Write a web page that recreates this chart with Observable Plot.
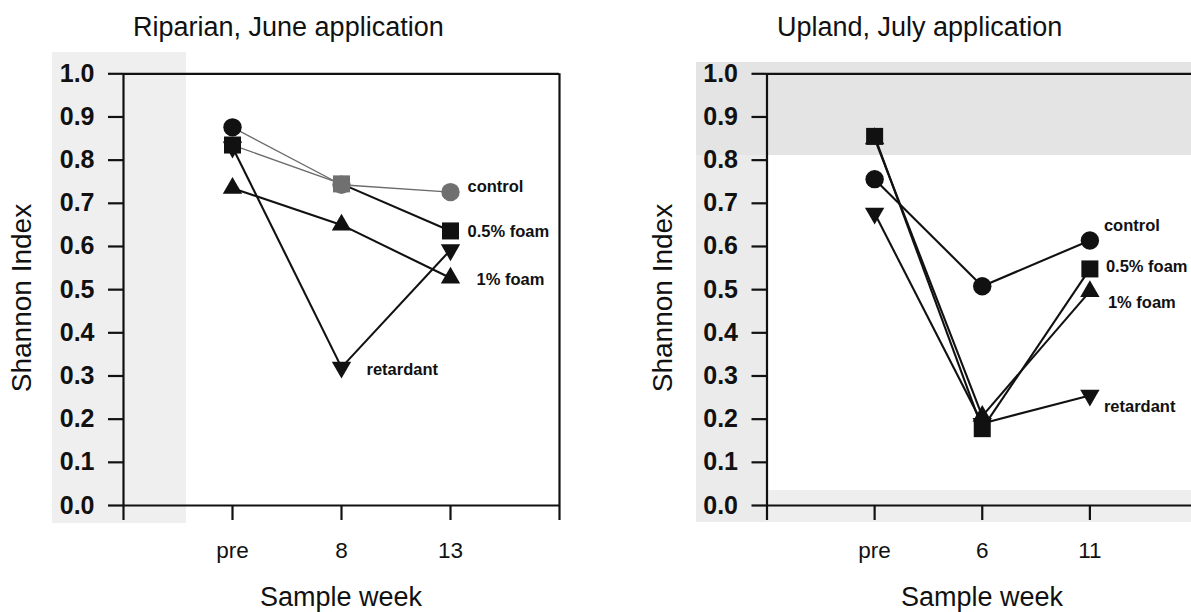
<!DOCTYPE html>
<html>
<head>
<meta charset="utf-8">
<script src="https://cdn.jsdelivr.net/npm/d3@7"></script>
<script src="https://cdn.jsdelivr.net/npm/@observablehq/plot@0.6"></script>
<style>
  body { margin: 0; background: #fff; overflow: hidden; font-family: "Liberation Sans", Arial, sans-serif; }
  #root { position: relative; width: 1191px; height: 612px; overflow: hidden; background: #fff; }
  .panel { position: absolute; top: 0; height: 612px; }
  .title { position: absolute; top: 14px; font-size: 27px; line-height: 27px; white-space: nowrap; color: #111; }
  .xtitle { position: absolute; top: 584px; font-size: 27px; line-height: 27px; white-space: nowrap; transform: translateX(-50%); color: #111; }
  .ytitle { position: absolute; font-size: 28px; line-height: 28px; white-space: nowrap; transform: translate(-50%, -50%) rotate(-90deg); color: #111; }
  .shade { position: absolute; }
  .panel svg { position: absolute; left: 0; top: 50px; }
  g[aria-label="y-axis tick label"] text { font-weight: bold; }
</style>
</head>
<body>
<div id="root"></div>
<script>
// ---- data ----
const seriesNames = ["control", "0.5% foam", "1% foam", "retardant"];
const riparianWeeks = ["pre", "8", "13"];
const uplandWeeks = ["pre", "6", "11"];

const riparianControl   = [0.876, 0.743, 0.726];
const riparianFoam05    = [0.835, 0.745, 0.636];
const riparianFoam1     = [0.735, 0.650, 0.527];
const riparianRetardant = [0.830, 0.320, 0.592];

const uplandControl   = [0.756, 0.508, 0.614];
const uplandFoam05    = [0.855, 0.178, 0.548];
const uplandFoam1     = [0.850, 0.207, 0.496];
const uplandRetardant = [0.677, 0.190, 0.255];

const yTicks = [0, 0.1, 0.2, 0.3, 0.4, 0.5, 0.6, 0.7, 0.8, 0.9, 1.0];

// ---- helpers ----
const triangleDown = {
  draw(context, size) {
    const y = -Math.sqrt(size / (Math.sqrt(3) * 3));
    context.moveTo(0, -y * 2);
    context.lineTo(-Math.sqrt(3) * y, y);
    context.lineTo(Math.sqrt(3) * y, y);
    context.closePath();
  }
};
const symbolOf = {"control": "circle", "0.5% foam": "square", "1% foam": "triangle", "retardant": triangleDown};
const radiusOf = {"control": 9.2, "0.5% foam": 9.6, "1% foam": 7.2, "retardant": 7.2};

function buildPoints(valuesBySeries) {
  const pts = [];
  seriesNames.forEach((s, k) => valuesBySeries[k].forEach((v, i) => pts.push({series: s, i, v})));
  return pts;
}
function buildSegments(valuesBySeries) {
  const segs = [];
  seriesNames.forEach((s, k) => {
    const vals = valuesBySeries[k];
    for (let i = 0; i < vals.length - 1; i++) segs.push({series: s, i, x1: i, y1: vals[i], x2: i + 1, y2: vals[i + 1]});
  });
  return segs;
}

function makePanel(cfg) {
  const pts = buildPoints(cfg.values);
  const segs = buildSegments(cfg.values);
  const greyLine = d => cfg.riparian && (d.series === "control" || (d.series === "0.5% foam" && d.i === 0));
  const greyDot = d => cfg.riparian && ((d.series === "control" && d.i > 0) || (d.series === "0.5% foam" && d.i === 1));
  const lastPts = pts.filter(d => d.i === cfg.labelIndex[d.series]);
  const marks = [
    Plot.ruleX([-1, 3], {y1: 1, y2: 0, insetBottom: -15, stroke: "#111", strokeWidth: 2.2}),
    Plot.ruleY([0, 1], {x1: -1, x2: 3, stroke: "#111", strokeWidth: 2.2}),
    Plot.axisY({ticks: yTicks, tickFormat: d3.format(".1f"), tickSize: 15, tickPadding: 14, fontSize: 25, fontWeight: "bold", strokeWidth: 2.2, stroke: "#111"}),
    Plot.axisX({ticks: [0, 1, 2], tickFormat: i => cfg.weeks[i], tickSize: 15, tickPadding: 22, fontSize: 22.5, strokeWidth: 2.2, stroke: "#111"}),
    Plot.link(segs, {
      x1: "x1", y1: "y1", x2: "x2", y2: "y2",
      stroke: d => greyLine(d) ? "#6a6a6a" : "#111",
      strokeWidth: d => greyLine(d) ? 1.3 : 2.1
    })
  ];
  // dots drawn back to front: retardant, 1% foam, 0.5% foam, control
  ["retardant", "1% foam", "0.5% foam", "control"].forEach(s => {
    marks.push(Plot.dot(pts.filter(d => d.series === s), {
      x: "i", y: "v", symbol: symbolOf[s], r: radiusOf[s],
      fill: d => greyDot(d) ? "#707070" : "#111", stroke: "none"
    }));
  });
  seriesNames.forEach(s => {
    const off = cfg.labelOffset[s];
    marks.push(Plot.text(lastPts.filter(d => d.series === s), {
      x: "i", y: "v", text: d => d.series, textAnchor: "start",
      dx: off[0], dy: off[1], fontSize: 16.5, fontWeight: "bold", fill: "#111"
    }));
  });
  return Plot.plot({
    width: cfg.width, height: 562,
    marginLeft: cfg.marginLeft, marginRight: cfg.marginRight, marginTop: 23.3, marginBottom: 107,
    x: {type: "linear", domain: [-1, 3]},
    y: {domain: [0, 1]},
    style: {background: "transparent", fontFamily: "'Liberation Sans', Arial, sans-serif", color: "#111", overflow: "visible"},
    marks
  });
}

const root = document.getElementById("root");
function addDiv(parent, cls, text, css) {
  const d = document.createElement("div");
  d.className = cls;
  if (text) d.textContent = text;
  Object.assign(d.style, css);
  parent.appendChild(d);
  return d;
}

// background scan shading (decorative)
addDiv(root, "shade", "", {left: "52px", top: "52px", width: "134px", height: "471px", background: "#efefef"});
addDiv(root, "shade", "", {left: "696px", top: "62px", width: "495px", height: "93px", background: "#e4e4e4"});
addDiv(root, "shade", "", {left: "696px", top: "155px", width: "70px", height: "367px", background: "#ebebeb"});
addDiv(root, "shade", "", {left: "766px", top: "490px", width: "425px", height: "32px", background: "#eeeeee"});

// left panel
const left = addDiv(root, "panel", "", {left: "0px", width: "600px"});
addDiv(left, "title", "Riparian, June application", {left: "133px"});
left.appendChild(makePanel({
  riparian: true, weeks: riparianWeeks, width: 600, marginLeft: 123, marginRight: 41,
  values: [riparianControl, riparianFoam05, riparianFoam1, riparianRetardant],
  labelIndex: {"control": 2, "0.5% foam": 2, "1% foam": 2, "retardant": 1},
  labelOffset: {"control": [17, -5], "0.5% foam": [17, 1], "1% foam": [26, 2], "retardant": [25, 2]}
}));
addDiv(left, "xtitle", "Sample week", {left: "341px"});
addDiv(left, "ytitle", "Shannon Index", {left: "22px", top: "298px"});

// right panel
const right = addDiv(root, "panel", "", {left: "600px", width: "600px"});
addDiv(right, "title", "Upland, July application", {left: "177px"});
right.appendChild(makePanel({
  riparian: false, weeks: uplandWeeks, width: 600, marginLeft: 166.5, marginRight: 3,
  values: [uplandControl, uplandFoam05, uplandFoam1, uplandRetardant],
  labelIndex: {"control": 2, "0.5% foam": 2, "1% foam": 2, "retardant": 2},
  labelOffset: {"control": [14, -15], "0.5% foam": [16, -2], "1% foam": [18, 11], "retardant": [14, 11]}
}));
addDiv(right, "xtitle", "Sample week", {left: "382px"});
addDiv(right, "ytitle", "Shannon Index", {left: "63px", top: "298px"});
</script>
</body>
</html>
